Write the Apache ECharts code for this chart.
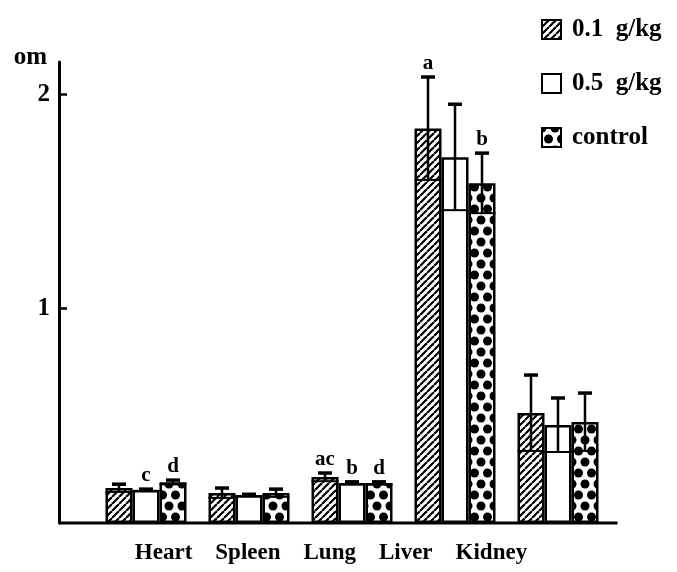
<!DOCTYPE html>
<html>
<head>
<meta charset="utf-8">
<script src="https://cdn.jsdelivr.net/npm/echarts@6/dist/echarts.min.js"></script>
<style>
html,body{margin:0;padding:0;background:#fff;}
#chart{width:677px;height:572px;}
</style>
</head>
<body>
<div id="chart"></div>
<script>
// ---- data ----
const categories = ['Heart', 'Spleen', 'Lung', 'Liver', 'Kidney'];
const seriesNames = ['0.1  g/kg', '0.5  g/kg', 'control'];
const dose01 = [0.163, 0.140, 0.214, 1.840, 0.513];
const dose01SD = [0.018, 0.023, 0.019, 0.240, 0.177];
const dose05 = [0.154, 0.130, 0.186, 1.706, 0.457];
const dose05SD = [0.004, 0.004, 0.006, 0.247, 0.126];
const control = [0.190, 0.140, 0.186, 1.585, 0.471];
const controlSD = [0.010, 0.018, 0.006, 0.140, 0.135];
const letters01 = ['', '', 'ac', 'a', ''];
const letters05 = ['c', '', 'b', '', ''];
const lettersCtrl = ['d', '', 'd', 'b', ''];
const yTicks = [1, 2];

// ---- styling ----
const FONT = "'Liberation Serif', 'DejaVu Serif', serif";
const BAR_W = 27;

function hatchPattern() {
  const s = 7;
  const c = document.createElement('canvas');
  c.width = s; c.height = s;
  const g = c.getContext('2d');
  g.fillStyle = '#fff'; g.fillRect(0, 0, s, s);
  g.strokeStyle = '#000'; g.lineWidth = 2.2;
  for (const o of [-s, 0, s]) {
    g.beginPath(); g.moveTo(o, s); g.lineTo(o + s, 0); g.stroke();
  }
  return c;
}
function dotPattern() {
  const w = 13, h = 22, r = 4.5;
  const c = document.createElement('canvas');
  c.width = w; c.height = h;
  const g = c.getContext('2d');
  g.fillStyle = '#fff'; g.fillRect(0, 0, w, h);
  g.fillStyle = '#000';
  for (const p of [[0, 0], [w, 0], [0, h], [w, h], [w / 2, h / 2]]) {
    g.beginPath(); g.arc(p[0], p[1], r, 0, Math.PI * 2); g.fill();
  }
  return c;
}
const fills = [
  { image: hatchPattern(), repeat: 'repeat' },
  '#ffffff',
  { image: dotPattern(), repeat: 'repeat' }
];

const groups = [
  { vals: dose01, sd: dose01SD, letters: letters01 },
  { vals: dose05, sd: dose05SD, letters: letters05 },
  { vals: control, sd: controlSD, letters: lettersCtrl }
];

const series = [];
groups.forEach((gr, k) => {
  series.push({
    name: seriesNames[k],
    type: 'bar',
    barWidth: BAR_W,
    barGap: '0%',
    data: gr.vals,
    itemStyle: { color: fills[k], borderColor: '#000', borderWidth: 2.5 },
    emphasis: { disabled: true },
    z: 2
  });
});
groups.forEach((gr, k) => {
  series.push({
    type: 'custom',
    name: 'err' + k,
    z: 5,
    silent: true,
    data: gr.vals.map((v, i) => [i, v, gr.sd[i]]),
    encode: { x: 0, y: 1 },
    renderItem: function (params, api) {
      const i = api.value(0), m = api.value(1), sd = api.value(2);
      const shift = (k - 1) * BAR_W;
      const c = api.coord([i, m]);
      const x = c[0] + shift;
      const yTop = api.coord([i, m + sd])[1];
      const yBot = api.coord([i, Math.max(m - sd, 0)])[1];
      const st = { stroke: '#000', lineWidth: 2.5 };
      const children = [
        { type: 'line', shape: { x1: x, y1: yTop, x2: x, y2: yBot }, style: st },
        { type: 'line', shape: { x1: x - 7, y1: yTop, x2: x + 7, y2: yTop }, style: { stroke: '#000', lineWidth: 3.5 } },
        { type: 'line', shape: { x1: x - BAR_W / 2, y1: yBot, x2: x + BAR_W / 2, y2: yBot }, style: { stroke: '#000', lineWidth: 2 } }
      ];
      const lt = gr.letters[params.dataIndex];
      if (lt) {
        children.push({
          type: 'text',
          style: {
            text: lt, x: x, y: yTop - 3, align: 'center', verticalAlign: 'bottom',
            font: 'bold 21px ' + FONT, fill: '#000'
          }
        });
      }
      return { type: 'group', children: children };
    }
  });
});

const chart = echarts.init(document.getElementById('chart'), null, { renderer: 'canvas' });
chart.setOption({
  animation: false,
  backgroundColor: '#fff',
  grid: { left: 94.5, right: 67.5, top: 62, bottom: 49 },
  legend: {
    data: seriesNames,
    orient: 'vertical',
    left: 536, top: 12,
    itemWidth: 19, itemHeight: 19,
    itemGap: 29,
    icon: 'rect',
    textStyle: { fontFamily: FONT, fontWeight: 'bold', fontSize: 25, color: '#000', padding: [0, 0, 0, 6] },
    selectedMode: false
  },
  xAxis: {
    type: 'category',
    data: categories,
    axisLine: { show: false },
    axisTick: { show: false },
    axisLabel: { show: false }
  },
  yAxis: {
    type: 'value',
    min: 0, max: 2.15,
    offset: 35.5,
    name: 'om',
    nameLocation: 'end',
    nameGap: 4,
    nameTextStyle: { fontFamily: FONT, fontWeight: 'bold', fontSize: 25, color: '#000', align: 'right', verticalAlign: 'middle', padding: [0, 12, 0, 0] },
    axisLine: { show: true, lineStyle: { color: '#000', width: 3 } },
    axisTick: { show: true, inside: true, length: 8, customValues: yTicks, lineStyle: { color: '#000', width: 2.5 } },
    axisLabel: { customValues: yTicks, margin: 9, fontFamily: FONT, fontWeight: 'bold', fontSize: 25, color: '#000' },
    splitLine: { show: false }
  },
  series: series
});

// baseline spanning from the y-axis to past the last group, and category text
const y0 = chart.convertToPixel({ yAxisIndex: 0 }, 0);
const gridRect = chart.getModel().getComponent('grid').coordinateSystem.getRect();
chart.setOption({
  graphic: [
    { type: 'line', shape: { x1: gridRect.x - 35.5, y1: y0, x2: gridRect.x + gridRect.width + 8, y2: y0 }, style: { stroke: '#000', lineWidth: 3 }, z: 10 },
    { type: 'text', x: 331, y: 553, style: { text: categories.join('    '), font: 'bold 23px ' + FONT, fill: '#000', align: 'center', verticalAlign: 'middle' } }
  ]
});
</script>
</body>
</html>
